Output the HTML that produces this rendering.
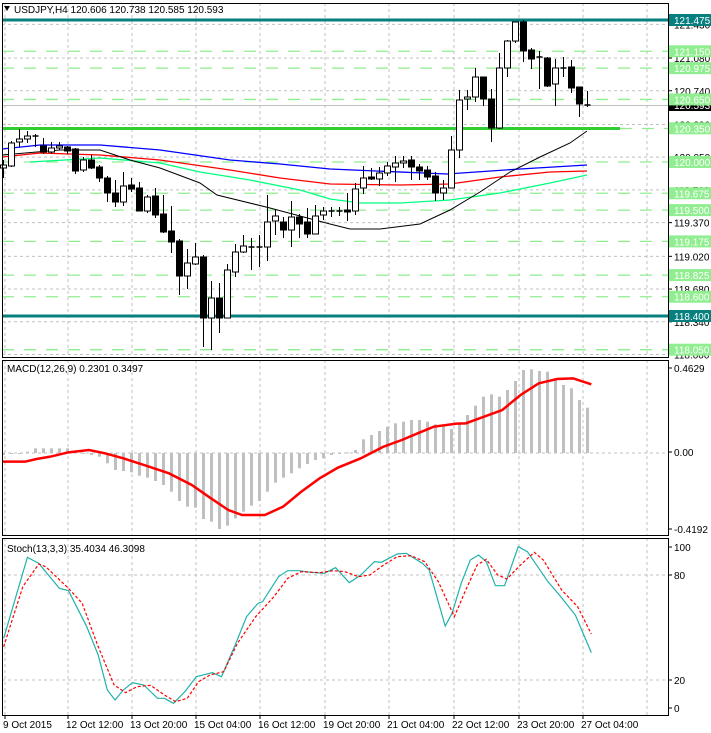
<!DOCTYPE html>
<html><head><meta charset="utf-8"><style>
body{margin:0;background:#fff;width:711px;height:733px;overflow:hidden}
svg{display:block;font-family:"Liberation Sans",sans-serif;font-size:10px}
</style></head><body>
<svg id="s" width="711" height="733" xmlns="http://www.w3.org/2000/svg"></svg>
<script>
const S=document.getElementById('s');let h='';
const X0=2.7,BW=8;const bx=i=>X0+BW*i;
const P=p=>20+(121.475-p)*96.26;
const vg=[5,68,132,196,260,325,389,454,519,583,647];
const panels=[[3,357],[360,535],[538,715]];
for(const [a,b] of panels)for(const x of vg)h+=`<line x1="${x}" y1="${a}" x2="${x}" y2="${b}" stroke="#c0c0c0" stroke-dasharray="3,3"/>`;
const gl=[121.43,121.08,120.74,120.39,120.05,119.71,119.37,119.02,118.68,118.34,118.0];
for(const p of gl){const y=P(p);h+=`<line x1="2" y1="${y}" x2="668" y2="${y}" stroke="#c0c0c0" stroke-dasharray="3,3"/>`;}
const lv=[121.15,120.975,120.65,120.0,119.675,119.5,119.175,118.825,118.6,118.05];
for(const p of lv){const y=P(p);h+=`<line x1="2" y1="${y}" x2="668" y2="${y}" stroke="#90ee90" stroke-width="1.3" stroke-dasharray="12,10"/>`;}
h+=`<line x1="2" y1="105.5" x2="668" y2="105.5" stroke="#c0c0c0"/>`;
h+=`<line x1="2" y1="20" x2="668" y2="20" stroke="#087f7f" stroke-width="3"/><line x1="2" y1="316" x2="668" y2="316" stroke="#087f7f" stroke-width="3"/>`;
h+=`<line x1="620" y1="128.5" x2="668" y2="128.5" stroke="#90ee90" stroke-width="1.3" stroke-dasharray="12,10"/>`;
h+=`<line x1="2" y1="128.5" x2="620" y2="128.5" stroke="#32cd32" stroke-width="3"/>`;
function pl(pts,c,w,extra){return `<polyline fill="none" stroke="${c}" stroke-width="${w||1}" ${extra||''} points="${pts.map(p=>p.join(',')).join(' ')}"/>`;}
h+=pl([[2,149],[40,145],[100,145],[160,150],[230,160],[280,164],[330,169],[353,170],[447,174],[520,169],[587,165]],'#0000ff',1.3);
h+=pl([[2,157],[40,153],[100,155],[160,160],[230,170],[280,178],[330,184],[400,185],[450,184],[500,177],[550,172],[587,171]],'#ff0000',1.3);
h+=pl([[30,162],[100,158],[160,163],[200,172],[250,180],[300,190],[330,199],[360,203],[400,203],[450,200],[500,193],[550,183],[587,175]],'#00ff7f',1.3);
h+=pl([[2,155],[60,150],[100,150],[130,160],[160,168],[200,183],[217,195],[270,208],[330,224],[350,229],[380,229],[420,224],[450,210],[480,192],[510,172],[540,157],[570,143],[587,131]],'#000',1);
const C=[[165,168,160,178,0],[143,166,141,167,0],[139,142,129,147,0],[136,139,131,143,0],[136,137,134,147,1],[146,152,138,154,1],[148,152,142,154,0],[146,148,142,150,0],[147,151,146,154,1],[149,171,148,174,1],[160,170,157,172,0],[160,168,155,169,1],[167,178,165,182,1],[178,193,176,202,1],[193,202,180,207,1],[186,202,172,206,0],[185,189,178,192,1],[188,211,182,211,1],[197,211,195,213,0],[196,215,188,218,1],[214,232,195,233,1],[231,242,206,253,1],[241,276,239,295,1],[263,276,249,289,0],[257,264,243,265,0],[257,318,255,347,1],[298,318,281,350,0],[298,318,283,333,1],[270,318,264,318,0],[252,272,244,277,0],[246,252,235,253,0],[247,247,238,270,0],[247,247,235,267,0],[222,247,195,261,0],[216,221,209,235,0],[222,230,217,238,1],[217,230,201,247,0],[217,224,214,238,1],[222,234,208,238,1],[216,234,205,234,0],[211,215,207,220,0],[211,211,207,217,0],[211,211,207,216,0],[210,212,193,221,1],[189,211,183,215,0],[178,188,166,194,0],[177,179,168,180,1],[173,179,167,186,0],[166,173,162,176,0],[163,167,156,182,0],[161,163,156,168,0],[160,167,156,180,1],[167,171,164,180,1],[170,177,166,180,1],[176,193,172,201,1],[188,193,180,200,0],[150,188,136,188,0],[100,150,90,158,0],[97,99,90,110,0],[77,97,68,102,0],[77,99,77,106,1],[99,128,89,142,1],[68,128,53,129,0],[41,68,40,77,0],[22,41,22,43,0],[22,51,20,62,1],[50,59,48,69,1],[57,57,51,89,0],[58,86,57,87,1],[68,84,59,106,0],[68,68,57,77,0],[67,88,60,93,1],[87,104,87,117,1],[105,105,91,107,0]];
C.forEach((c,i)=>{const x=Math.round(bx(i))+0.5;h+=`<line x1="${x}" y1="${c[2]}" x2="${x}" y2="${c[3]}" stroke="#000"/>`;
 const hgt=Math.max(1,c[1]-c[0]);
 if(hgt<=1.5)h+=`<line x1="${x-3}" y1="${c[0]}" x2="${x+3}" y2="${c[0]}" stroke="#000" stroke-width="1.5"/>`;
 else h+=`<rect x="${x-3}" y="${c[0]}" width="6" height="${hgt}" fill="${c[4]?'#000':'#fff'}" stroke="#000"/>`;});
const Z=453;h+=`<line x1="2" y1="${Z}" x2="668" y2="${Z}" stroke="#c0c0c0" stroke-dasharray="3,3"/>`;
const HV=[300,297,294,290,280,280,280,280,280,290,295,300,305,325,345,348,352,362,368,378,390,410,438,455,458,492,500,522,512,490,470,452,438,410,383,368,355,340,327,315,310,300,297,292,285,253,240,228,215,205,200,195,195,200,208,210,222,205,180,152,125,118,125,105,78,45,43,48,50,70,90,100,135,158];
HV.forEach((v,i)=>{const y=355+v/3;const x=Math.round(bx(i))-1;h+=`<rect x="${x}" y="${Math.min(y,Z)}" width="3" height="${Math.max(1,Math.abs(y-Z))}" fill="#c0c0c0"/>`;});
const sg=[[6,320],[55,320],[80,312],[110,305],[150,292],[195,285],[230,295],[270,310],[320,332],[370,355],[420,390],[460,428],[500,465],[530,480],[580,480],[620,455],[660,410],[700,370],[740,338],[790,310],[840,275],[880,255],[920,232],[950,215],[1000,206],[1020,205],[1060,185],[1100,165],[1140,120],[1180,85],[1220,72],[1255,70],[1295,88]].map(p=>[p[0]/2.19,355+p[1]/3]);
h+=pl(sg,'#ff0000',2.5);
for(const y of [575,680])h+=`<line x1="2" y1="${y}" x2="668" y2="${y}" stroke="#c0c0c0" stroke-dasharray="3,3"/>`;
const st=[[8,415],[60,172],[85,190],[130,265],[150,272],[190,380],[215,465],[235,570],[252,600],[270,570],[290,548],[315,555],[345,595],[360,595],[380,610],[405,575],[430,530],[465,518],[485,530],[515,435],[540,350],[565,310],[575,305],[610,230],[630,212],[655,212],[680,217],[710,220],[735,203],[765,248],[790,225],[820,185],[835,187],[870,162],[890,160],[925,190],[940,210],[975,378],[990,340],[1010,250],[1030,180],[1048,165],[1065,185],[1085,257],[1105,257],[1135,140],[1155,155],[1200,245],[1225,285],[1260,345],[1295,458]].map(p=>[p[0]/2.19,500+p[1]/3]);
const ss=[[8,440],[50,260],[85,192],[100,200],[150,265],[180,310],[215,440],[250,555],[275,578],[300,560],[330,556],[360,585],[385,605],[410,595],[435,545],[460,525],[490,515],[520,430],[560,350],[600,290],[630,235],[660,215],[700,218],[730,212],[755,215],[785,230],[810,225],[840,195],[870,170],[900,167],[930,185],[960,245],[995,350],[1020,270],[1045,195],[1065,178],[1090,225],[1110,237],[1140,195],[1170,157],[1190,180],[1230,270],[1265,320],[1295,402]].map(p=>[p[0]/2.19,500+p[1]/3]);
h+=pl(st,'#20b2aa',1.2);h+=pl(ss,'#ff0000',1.2,'stroke-dasharray="3,2"');
for(const [a,b] of panels)h+=`<rect x="2.5" y="${a+.5}" width="666" height="${b-a}" fill="none" stroke="#000"/>`;
for(const p of gl){const y=P(p);h+=`<line x1="668" y1="${y}" x2="672" y2="${y}" stroke="#000"/><text x="674" y="${y+4}">${p.toFixed(3)}</text>`;}
h+=`<rect x="669" y="100" width="42" height="11" fill="#000"/><text x="674" y="109" fill="#fff">120.593</text>`;
for(const p of lv.concat([120.35])){const y=P(p);h+=`<rect x="669" y="${y-6}" width="42" height="12" fill="#90ee90"/><text x="674" y="${y+4}" fill="#fff">${p.toFixed(3)}</text>`;}
for(const [p,y] of [[121.475,20],[118.4,316]])h+=`<rect x="669" y="${y-6}" width="42" height="12" fill="#087f7f"/><text x="674" y="${y+4}" fill="#fff">${p.toFixed(3)}</text>`;
for(const [t,y] of [['0.4629',372],['0.00',456],['-0.4192',533],['100',551],['80',579],['20',684],['0',712]])h+=`<line x1="668" y1="${y-4}" x2="672" y2="${y-4}" stroke="#000"/><text x="674" y="${y}">${t}</text>`;
h+=`<polygon points="4,6 10,6 7,11" fill="#000"/><text x="14" y="13">USDJPY,H4  120.606 120.738 120.585 120.593</text>`;
h+=`<text x="7" y="372">MACD(12,26,9) 0.2301 0.3497</text><text x="7" y="552">Stoch(13,3,3) 35.4034 46.3098</text>`;
const xl=[[5,'9 Oct 2015'],[68,'12 Oct 12:00'],[132,'13 Oct 20:00'],[196,'15 Oct 04:00'],[260,'16 Oct 12:00'],[325,'19 Oct 20:00'],[389,'21 Oct 04:00'],[454,'22 Oct 12:00'],[519,'23 Oct 20:00'],[583,'27 Oct 04:00']];
for(const [x,t] of xl)h+=`<line x1="${x}" y1="715" x2="${x}" y2="719" stroke="#000"/><text x="${x-2}" y="728">${t}</text>`;
S.innerHTML=h;
</script></body></html>
